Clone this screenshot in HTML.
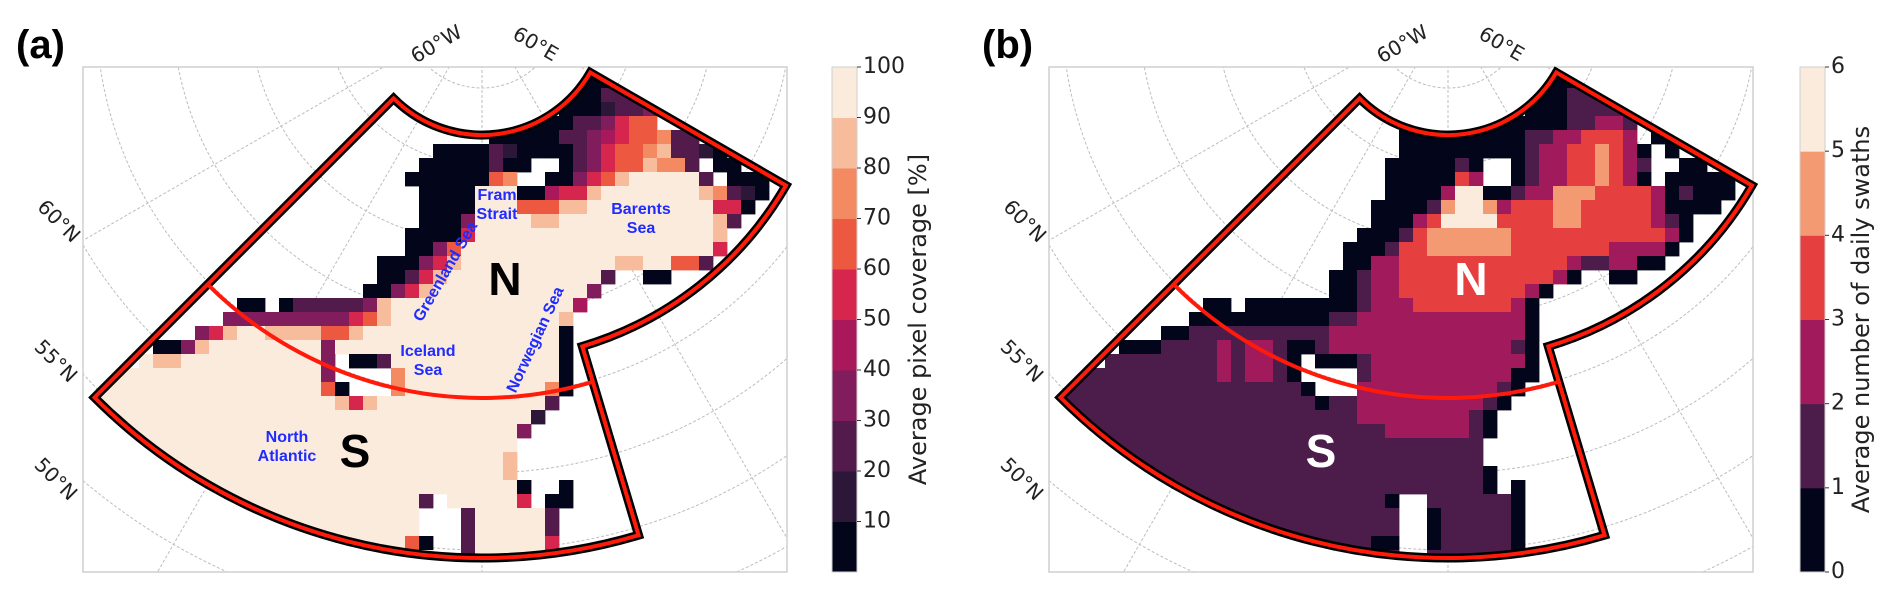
<!DOCTYPE html>
<html><head><meta charset="utf-8"><style>
html,body{margin:0;padding:0;background:#fff;width:1892px;height:601px;overflow:hidden;}
svg{display:block;}
</style></head><body>
<svg id="fig" width="1892" height="601" viewBox="0 0 1892 601" xmlns="http://www.w3.org/2000/svg">
<rect x="0" y="0" width="1892" height="601" fill="#fff"/>
<text x="16" y="58" font-family="Liberation Sans, sans-serif" font-weight="bold" font-size="40" fill="#000">(a)</text>
<text x="982" y="58" font-family="Liberation Sans, sans-serif" font-weight="bold" font-size="40" fill="#000">(b)</text>
<g id="panelA"></g>
<g id="panelB"></g>
<g id="cbA"></g>
<g id="cbB"></g>
</svg>
<script>
// ---------- data ----------
const colorsA = ["#03051a","#2d1738","#531b4c","#821d5d","#a8185a","#d6264d","#ed5840","#f38a62","#f7bc9c","#faebdd"];
const colorsB = ["#03051a","#4c1d4b","#a11a5b","#e53f40","#f49a72","#faebdd"];
const ticksA = [10,20,30,40,50,60,70,80,90,100];
const ticksB = [0,1,2,3,4,5,6];
// per-cell bin index grids (run-length tokens "n*c"); '.' = no data
const gridA = [
"35*. 000","35*. 00 222","34*. 000 1223","31*. 0000 223 5 66",
"29*. 00000 22 34 5 66 7 22","25*. 0000 2 1 0000 23 5 66 78 2210",
"24*. 00000 2 00 .. 0 23 5 66 8 77 2 . 00","23*. 00000 0 67 .. 00 3 5 6 8 5*9 2 . 000",
"24*. 0000 999 00 45 5 8 7*9 87 210","24*. 0000 999 666 88 9*9 55 0",
"24*. 000 3 9999 88 11*9 8 2","23*. 0000 5 17*9 8","23*. 00 3 6 18*9 5",
"21*. 000 3 5 8 11*9 88 99 66 2","21*. 00 2 5 8 11*9 2 .. 00","20*. 00 3 5 8 11*9 3",
"11*. 00 . 0 5*2 3 8 13*9 4","10*. 9*3 5 6 8 12*9 8","8*. 3 5 8 99 8888 66 8 14*9 0",
"5*. 00 3 8 8*9 3 16*9 0","4*. 9 88 10*9 3 . 00 2 12*9 0","2*. 15*9 3 4*. 7 11*9 0",
". 16*9 6 0 3*. 7 10*9 7 0","18*9 8 5 8 12*9 2","32*9 1","31*9 3","31*9","30*9 8","30*9 8",
"31*9 0 .. 0","24*9 2 . 5*9 5 . 00","24*9 3*. 2 5*9 2","24*9 3*. 2 5*9 2",
"23*9 6 0 .. 2 5*9 5","23*9 99 .. 2 5*9 9"
];
const gridB = [
"35*. 000","35*. 00 111","34*. 000 1111","31*. 000000 11 22 1",
"25*. 9*0 11 22 33 3 2 . 00","25*. 9*0 1 22 33 4 3 2 0 . 0",
"24*. 00000 1 0 .. 0 1 22 33 4 3 2 1 .. 00","24*. 00000 3 2 .. 0 1 22 33 4 3 2 0 . 00000",
"24*. 0000 2 55 00 1 22 444 3333 2 0 1 000","23*. 0000 1 4 55 4 2 333 44 33333 2 0000",
"23*. 000 2 3 5555 3333 44 33333 2 1 0","22*. 000 1 3 444444 11*3 2 0",
"21*. 000 1 33 444444 7*3 2222 0","21*. 00 22 12*3 2 11 22 00",
"20*. 00 1 22 11*3 2 0 .. 00","20*. 00 1 22 9*3 2 0",
"11*. 00 . 8*0 1 222 7*3 2 0","10*. 10*0 11 12*2 0","8*. 00 10*1 14*2 0",
"5*. 000 1111 2 1 22 1 00 1 13*2 1 0","4*. 8*1 2 1 22 1 0 . 000 1 11*2 0",
"2*. 10*1 2 1 22 1 0 4*. 1 10*2 00",". 17*1 0 3*. 10*2 1 0","19*1 0 11 9*2 1 0",
"22*1 8*2 1 0","24*1 6*2 1 0","31*1","31*1","31*1 0","31*1 0 . 0",
"24*1 0 .. 4*1 11 0","25*1 .. 0 5*1 0","25*1 .. 0 5*1 0","23*1 00 .. 0 5*1 0",
"23*1 11 .. 1 5*1 1"
];
// ---------- helpers ----------
const NS="http://www.w3.org/2000/svg";
function mk(tag,attrs,parent){const e=document.createElementNS(NS,tag);for(const k in attrs)e.setAttribute(k,attrs[k]);if(parent)parent.appendChild(e);return e;}
function expand(s){return s.split(' ').map(t=>{const m=t.match(/^(\d+)\*(.)$/);return m?m[2].repeat(+m[1]):t;}).join('');}
function pt(P,d,th){const a=th*Math.PI/180;return [P[0]+d*Math.sin(a),P[1]+d*Math.cos(a)];}
function arcTo(P,d,t1,t2){const e=pt(P,d,t2);const sw=t2>t1?0:1;const lg=Math.abs(t2-t1)>180?1:0;return `A${d},${d} 0 ${lg} ${sw} ${e[0].toFixed(1)},${e[1].toFixed(1)}`;}
function sectorPath(P){
  const s=pt(P,125,-45),a=pt(P,351,60),b=pt(P,548,16.6);
  return `M${s[0]},${s[1]} `+arcTo(P,125,-45,60)+` L${a[0]},${a[1]} `+arcTo(P,351,60,16.6)+` L${b[0]},${b[1]} `+arcTo(P,548,16.6,-45)+' Z';
}
function drawPanel(g,id,x0,grid,colors,labelColor){
  const fx=x0, fy=67, fw=704, fh=505;
  const P=[x0+399,10];
  const defs=mk('defs',{},g);
  const cpF=mk('clipPath',{id:id+'frame'},defs);mk('rect',{x:fx,y:fy,width:fw,height:fh},cpF);
  const cpS=mk('clipPath',{id:id+'sector'},defs);mk('path',{d:sectorPath(P)},cpS);
  const gl=mk('g',{'clip-path':`url(#${id}frame)`,stroke:'#bdbdbd','stroke-width':1,'stroke-dasharray':'3,2',fill:'none'},g);
  
  
  [78,155,232,309,386,463,540].forEach(r=>mk('circle',{cx:P[0],cy:P[1],r:r},gl));
  // outer partial latitude circle, only visible arcs
  [[24.4,40.3],[-40.3,-24.4]].forEach(rg=>{const s=pt(P,617,rg[0]);mk('path',{d:`M${s[0].toFixed(1)},${s[1].toFixed(1)} `+arcTo(P,617,rg[0],rg[1])},gl);});
  // meridians clipped to frame
  [-90,-60,-30,0,30,60,90].forEach(t=>{const a=t*Math.PI/180;const dx=Math.sin(a),dy=Math.cos(a);
    let L=1e9;
    if(dy>1e-6)L=Math.min(L,(fy+fh-P[1])/dy);
    if(dx>1e-6)L=Math.min(L,(fx+fw-P[0])/dx);
    if(dx<-1e-6)L=Math.min(L,(fx-P[0])/dx);
    if(L>1e8)L=0;
    mk('line',{x1:P[0],y1:P[1],x2:(P[0]+dx*L).toFixed(1),y2:(P[1]+dy*L).toFixed(1)},gl);});
  const cg=mk('g',{'clip-path':`url(#${id}sector)`},g);
  
  
  grid.forEach((row,r)=>{const s=expand(row);for(let c=0;c<s.length;c++){const ch=s[c];if(ch==='.')continue;
    const rc=mk('rect',{x:fx+c*14,y:74+r*14,width:14.4,height:14.4,fill:colors[+ch]},cg);
    
    }});
  const fr=mk('rect',{x:fx,y:fy,width:fw,height:fh,fill:'none',stroke:'#cfcfcf','stroke-width':1.5},g);
  
  
  const sp=sectorPath(P);
  const o1=mk('path',{d:sp,fill:'none',stroke:'#000','stroke-width':9,'stroke-linejoin':'miter'},g);
  
  
  mk('path',{d:sp,fill:'none',stroke:'#ff1a0a','stroke-width':4},g);
  const s1=pt(P,388,-45);
  const dv=mk('path',{d:`M${s1[0]},${s1[1]} `+arcTo(P,388,-45,16.6),fill:'none',stroke:'#ff1a0a','stroke-width':4},g);
  
  
  const lab=[["60°W",x0+354,45,-30],["60°E",x0+452,45,30],["60°N",x0-25,222,45],["55°N",x0-28,362,45],["50°N",x0-28,480,45]];
  lab.forEach(l=>{const t=mk('text',{x:l[1],y:l[2],'font-family':'DejaVu Sans, sans-serif','font-size':20,fill:'#222','text-anchor':'middle','dominant-baseline':'middle',transform:`rotate(${l[3]} ${l[1]} ${l[2]})`},g);t.textContent=l[0];
    
    });
  const big=[["N",x0+422,283],["S",x0+272,455]];
  big.forEach(b=>{const t=mk('text',{x:b[1],y:b[2],'font-family':'Liberation Sans, sans-serif','font-weight':'bold','font-size':46,fill:labelColor,'text-anchor':'middle','dominant-baseline':'middle'},g);t.textContent=b[0];
    
    });
}
function drawColorbar(g,x,colors,ticks,title,titleX){
  const y0=67,h=505,w=25,n=colors.length;
  for(let i=0;i<n;i++){const r=mk('rect',{x:x,y:y0+h-(i+1)*h/n,width:w,height:h/n+0.5,fill:colors[i]},g);
    
    }
  mk('rect',{x:x,y:y0,width:w,height:h,fill:'none',stroke:'#cfcfcf','stroke-width':1},g);
  const lo=0, hi=ticks[ticks.length-1];
  ticks.forEach(v=>{const y=y0+h-(v-lo)/(hi-lo)*h;
    mk('line',{x1:x+w,y1:y,x2:x+w+4,y2:y,stroke:'#333','stroke-width':1},g);
    const t=mk('text',{x:x+w+6,y:y,'font-family':'DejaVu Sans, sans-serif','font-size':22,fill:'#222','dominant-baseline':'middle'},g);t.textContent=String(v);
    
    });
  const t=mk('text',{x:titleX,y:y0+h/2,'font-family':'DejaVu Sans, sans-serif','font-size':24,fill:'#222','text-anchor':'middle','dominant-baseline':'middle',transform:`rotate(-90 ${titleX} ${y0+h/2})`},g);t.textContent=title;
  
  
}
const gA=document.getElementById('panelA'),gB=document.getElementById('panelB');
drawPanel(gA,'A',83,gridA,colorsA,'#000');
drawPanel(gB,'B',1049,gridB,colorsB,'#fff');
drawColorbar(document.getElementById('cbA'),832,colorsA,ticksA,'Average pixel coverage [%]',919);
drawColorbar(document.getElementById('cbB'),1800,colorsB,ticksB,'Average number of daily swaths',1862);
const seas=[["Fram",497,196,0],["Strait",497,215,0],["Barents",641,210,0],["Sea",641,229,0],["Iceland",428,352,0],["Sea",428,371,0],["North",287,438,0],["Atlantic",287,457,0],["Greenland Sea",446,272,-60],["Norwegian Sea",536,340,-65]];
seas.forEach(s=>{const t=mk('text',{x:s[1],y:s[2],'font-family':'Liberation Sans, sans-serif','font-weight':'bold','font-size':16,fill:'#1f2bff','text-anchor':'middle','dominant-baseline':'middle',transform:`rotate(${s[3]} ${s[1]} ${s[2]})`},gA);t.textContent=s[0];
  
  });
</script>
</body></html>
